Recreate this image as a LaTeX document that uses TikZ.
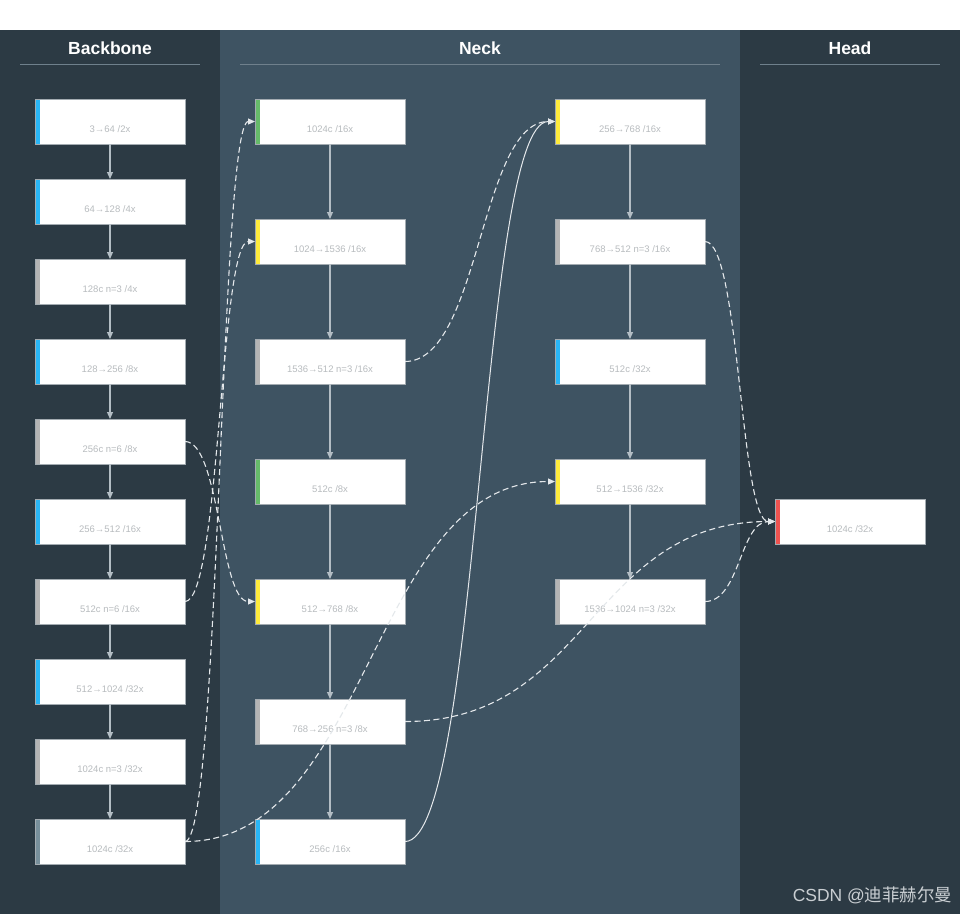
\documentclass[tikz,border=0pt]{standalone}
\usepackage{fontspec}
\setmainfont{Liberation Sans}
\newfontfamily\cjkfont{Noto Sans CJK SC}
\usepackage{xcolor}
\usepackage{tikz}
\usetikzlibrary{arrows.meta, positioning}
\definecolor{panel}{HTML}{2C3A44}
\definecolor{neckbg}{HTML}{3E5362}
\definecolor{rule}{HTML}{6F808C}
\definecolor{edge}{HTML}{A3ABB1}
\definecolor{label}{HTML}{B8BCBF}
\definecolor{flow}{HTML}{B3BDC4}
\definecolor{link}{HTML}{E4E8EB}
\definecolor{mark}{HTML}{C9CED2}
\definecolor{conv}{HTML}{29B6F6}
\definecolor{csp}{HTML}{B4B4B4}
\definecolor{cat}{HTML}{66BB6A}
\definecolor{merge}{HTML}{FFEB3B}
\definecolor{pool}{HTML}{78909C}
\definecolor{det}{HTML}{EF5350}
\tikzset{
  block/.style={rectangle, draw=edge, line width=0.8pt, fill=white, minimum width=150pt, minimum height=45pt, inner sep=0pt, outer sep=0pt, text height=22pt, text depth=0pt, font=\fontsize{9.5}{11}\selectfont, text=label,
    path picture={\fill[#1] (path picture bounding box.north west) rectangle ([xshift=5pt]path picture bounding box.south west);}},
  title/.style={text=white, font=\fontsize{17.5}{20}\selectfont\bfseries},
  flowarrow/.style={-{Triangle[length=7pt,width=6pt]}, draw=flow, line width=1.2pt},
  skip/.style={-{Triangle[length=7pt,width=6pt]}, draw=link, line width=1.1pt, dash pattern=on 6pt off 3.5pt},
  route/.style={-{Triangle[length=7pt,width=6pt]}, draw=link, line width=1pt},
}
\begin{document}
\begin{tikzpicture}[x=1pt, y=-1pt]
  \useasboundingbox (0,0) rectangle (960,914);
  % panels
  \fill[white] (0,0) rectangle (960,30);
  \fill[panel] (0,30) rectangle (220,914);
  \fill[neckbg] (220,30) rectangle (740,914);
  \fill[panel] (740,30) rectangle (960,914);
  \node[title] (tb) at (110,48) {Backbone};
  \node[title] (tn) at (480,48) {Neck};
  \node[title] (th) at (850,48) {Head};
  \draw[rule, line width=1.5pt] (20,64.5) -- (200,64.5);
  \draw[rule, line width=1.5pt] (240,64.5) -- (720,64.5);
  \draw[rule, line width=1.5pt] (760,64.5) -- (940,64.5);

  % backbone
  \node[block=conv] (b1) at (110,121.5) {3→64 /2x};
  \node[block=conv, below=35pt of b1] (b2) {64→128 /4x};
  \node[block=csp, below=35pt of b2] (b3) {128c n=3 /4x};
  \node[block=conv, below=35pt of b3] (b4) {128→256 /8x};
  \node[block=csp, below=35pt of b4] (b5) {256c n=6 /8x};
  \node[block=conv, below=35pt of b5] (b6) {256→512 /16x};
  \node[block=csp, below=35pt of b6] (b7) {512c n=6 /16x};
  \node[block=conv, below=35pt of b7] (b8) {512→1024 /32x};
  \node[block=csp, below=35pt of b8] (b9) {1024c n=3 /32x};
  \node[block=pool, below=35pt of b9] (b10) {1024c /32x};

  % neck, first column
  \node[block=cat] (n1) at (330,121.5) {1024c /16x};
  \node[block=merge, below=75pt of n1] (n2) {1024→1536 /16x};
  \node[block=csp, below=75pt of n2] (n3) {1536→512 n=3 /16x};
  \node[block=cat, below=75pt of n3] (n4) {512c /8x};
  \node[block=merge, below=75pt of n4] (n5) {512→768 /8x};
  \node[block=csp, below=75pt of n5] (n6) {768→256 n=3 /8x};
  \node[block=conv, below=75pt of n6] (n7) {256c /16x};

  % neck, second column
  \node[block=merge] (p1) at (630,121.5) {256→768 /16x};
  \node[block=csp, below=75pt of p1] (p2) {768→512 n=3 /16x};
  \node[block=conv, below=75pt of p2] (p3) {512c /32x};
  \node[block=merge, below=75pt of p3] (p4) {512→1536 /32x};
  \node[block=csp, below=75pt of p4] (p5) {1536→1024 n=3 /32x};

  % head
  \node[block=det] (h1) at (850,521.5) {1024c /32x};

  \foreach \a/\b in {b1/b2, b2/b3, b3/b4, b4/b5, b5/b6, b6/b7, b7/b8, b8/b9, b9/b10,
                     n1/n2, n2/n3, n3/n4, n4/n5, n5/n6, n6/n7,
                     p1/p2, p2/p3, p3/p4, p4/p5}
    \draw[flowarrow] (\a) -- (\b);

  % skip links
  \draw[skip] (b5.east) .. controls +(35,0) and +(-35,0) .. (n5.west);
  \draw[skip] (b7.east) .. controls +(35,0) and +(-35,0) .. (n2.west);
  \draw[skip] (b10.east) .. controls +(35,0) and +(-35,0) .. (n1.west);
  \draw[skip] (b10.east) .. controls +(185,0) and +(-185,0) .. (p4.west);
  \draw[skip] (n3.east) .. controls +(75,0) and +(-75,0) .. (p1.west);
  \draw[route] (n7.east) .. controls +(75,0) and +(-75,0) .. (p1.west);
  \draw[skip] (n6.east) .. controls +(185,0) and +(-185,0) .. (h1.west);
  \draw[skip] (p2.east) .. controls +(35,0) and +(-35,0) .. (h1.west);
  \draw[skip] (p5.east) .. controls +(35,0) and +(-35,0) .. (h1.west);

  \node[text=mark, font=\fontsize{17.5}{20}\selectfont, anchor=east] (wm) at (956,895) {CSDN @{\cjkfont 迪菲赫尔曼}};
\end{tikzpicture}
\end{document}
